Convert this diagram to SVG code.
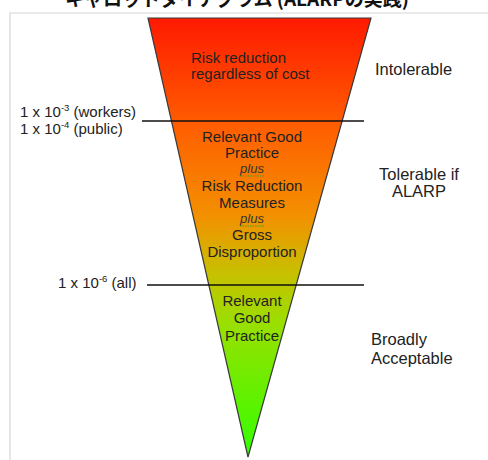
<svg xmlns="http://www.w3.org/2000/svg" width="488" height="460" viewBox="0 0 488 460">
<style>
.t{font-family:"Liberation Sans",Arial,sans-serif;fill:#222}
.c{text-anchor:middle}
.f15{font-size:15px}
.f16{font-size:16.5px}
.sup{font-size:9.5px}
.plus{font-style:italic;font-size:13px;fill:#333}
.lvl{stroke:#111;stroke-width:1.6}
.title{font-family:"Noto Sans CJK JP","Liberation Sans",sans-serif;font-weight:bold;font-size:19px;fill:#111;text-anchor:middle}
</style>
<defs>
<linearGradient id="g" x1="0" y1="18" x2="0" y2="457" gradientUnits="userSpaceOnUse">
<stop offset="0" stop-color="#ff1a00"/>
<stop offset="0.25" stop-color="#ff5f00"/>
<stop offset="0.45" stop-color="#f39000"/>
<stop offset="0.58" stop-color="#c8c000"/>
<stop offset="0.7" stop-color="#98e000"/>
<stop offset="1" stop-color="#33ff00"/>
</linearGradient>
</defs>
<rect width="488" height="460" fill="#fff"/>
<text class="title" x="237" y="6">キャロットダイアグラム (ALARPの実践)</text>
<path d="M10,460 V13 H488" fill="none" stroke="#d6d6d6" stroke-width="1.2"/>
<g id="funnel">
<polygon points="148,18 371,18 248,457" fill="url(#g)" stroke="#3a3a3a" stroke-width="1.2"/>
</g>
<g id="connectors">
<line class="lvl" x1="142" y1="121" x2="364" y2="121"/>
<line class="lvl" x1="147" y1="285" x2="364" y2="285"/>
</g>
<g id="zone-intolerable">
<text class="t f15" x="191" y="63">Risk reduction</text>
<text class="t f15" x="191" y="79">regardless of cost</text>
</g>
<g id="zone-alarp">
<text class="t f15 c" x="252" y="142">Relevant Good</text>
<text class="t f15 c" x="252" y="158">Practice</text>
<text class="t plus c" x="252" y="173">plus</text>
<line x1="240" y1="176" x2="265" y2="176" stroke="#4c9a2a" stroke-width="1" stroke-dasharray="1.5,1"/>
<text class="t f15 c" x="252" y="191">Risk Reduction</text>
<text class="t f15 c" x="252" y="208">Measures</text>
<text class="t plus c" x="252" y="223">plus</text>
<line x1="240" y1="226" x2="265" y2="226" stroke="#4c9a2a" stroke-width="1" stroke-dasharray="1.5,1"/>
<text class="t f15 c" x="252" y="240">Gross</text>
<text class="t f15 c" x="252" y="257">Disproportion</text>
</g>
<g id="zone-broad">
<text class="t f15 c" x="252" y="306">Relevant</text>
<text class="t f15 c" x="252" y="323">Good</text>
<text class="t f15 c" x="252" y="341">Practice</text>
</g>
<g id="limit-upper">
<text class="t f15" x="20" y="117">1 x 10<tspan class="sup" dy="-6">-3</tspan><tspan dy="6"> (workers)</tspan></text>
<text class="t f15" x="20" y="134">1 x 10<tspan class="sup" dy="-6">-4</tspan><tspan dy="6"> (public)</tspan></text>
</g>
<g id="limit-lower">
<text class="t f15" x="58" y="288">1 x 10<tspan class="sup" dy="-6">-6</tspan><tspan dy="6"> (all)</tspan></text>
</g>
<g id="label-intolerable">
<text class="t f16" x="375" y="75">Intolerable</text>
</g>
<g id="label-tolerable">
<text class="t f16 c" x="419" y="180">Tolerable if</text>
<text class="t f16 c" x="419" y="197">ALARP</text>
</g>
<g id="label-broad">
<text class="t f16" x="371" y="345">Broadly</text>
<text class="t f16" x="371" y="364">Acceptable</text>
</g>
</svg>
